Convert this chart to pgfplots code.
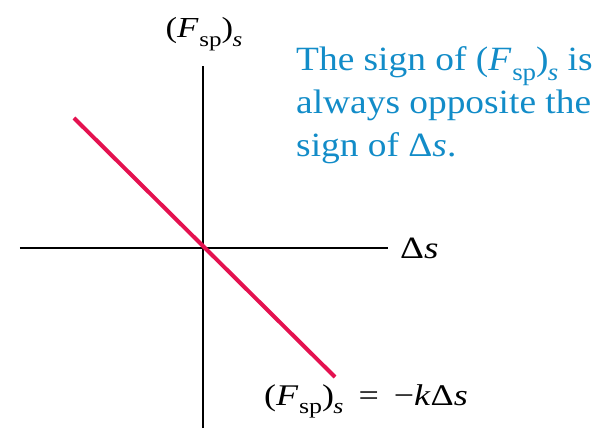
\documentclass[border=0pt]{standalone}
\usepackage{pgfplots}
\pgfplotsset{compat=1.18}
\usepackage{fontspec}
\setmainfont{Liberation Serif}
\definecolor{springred}{RGB}{228,18,80}
\definecolor{noteblue}{RGB}{18,140,200}
\newcommand{\Fsp}{(\textit{F}\kern0.02em\raisebox{-0.28em}{\scalebox{0.72}{sp}})\kern-0.02em\raisebox{-0.28em}{\scalebox{0.72}{\textit{s}}}}
\newcommand{\wide}[1]{\scalebox{1.2}[1]{#1}}
\begin{document}
\begin{tikzpicture}
\begin{axis}[
  x=1pt, y=1pt,
  scale only axis,
  axis lines=middle,
  axis line style={line width=1.8pt, -},
  xmin=-183, xmax=185, ymin=-180, ymax=182,
  xtick=\empty, ytick=\empty,
  clip=false,
]
\addplot[springred, line width=4pt] coordinates {(-129,130) (132,-129)};
\node[anchor=west, font=\fontsize{31}{31}\selectfont, inner sep=0pt] at (axis cs:197,0) {\wide{Δ\textit{s}}};
\node[anchor=base, font=\fontsize{29}{29}\selectfont] at (axis cs:1,210) {\wide{\Fsp}};
\node[anchor=base, font=\fontsize{30}{30}\selectfont] at (axis cs:163,-157) {\wide{\Fsp\ \,=\, −\textit{k}Δ\textit{s}}};
\begin{scope}[every node/.style={anchor=base west, text=noteblue, font=\fontsize{34}{34}\selectfont, inner sep=0pt}]
\node at (axis cs:93,177) {\scalebox{1.1}[1]{The sign of \Fsp\ is}};
\node at (axis cs:93,134) {\scalebox{1.1}[1]{always opposite the}};
\node at (axis cs:93,91) {\scalebox{1.1}[1]{sign of Δ\textit{s}.}};
\end{scope}
\coordinate (BL) at (axis cs:-203,-180);
\coordinate (TR) at (axis cs:404,248);
\end{axis}
\pgfresetboundingbox
\path (BL) rectangle (TR);
\end{tikzpicture}
\end{document}
